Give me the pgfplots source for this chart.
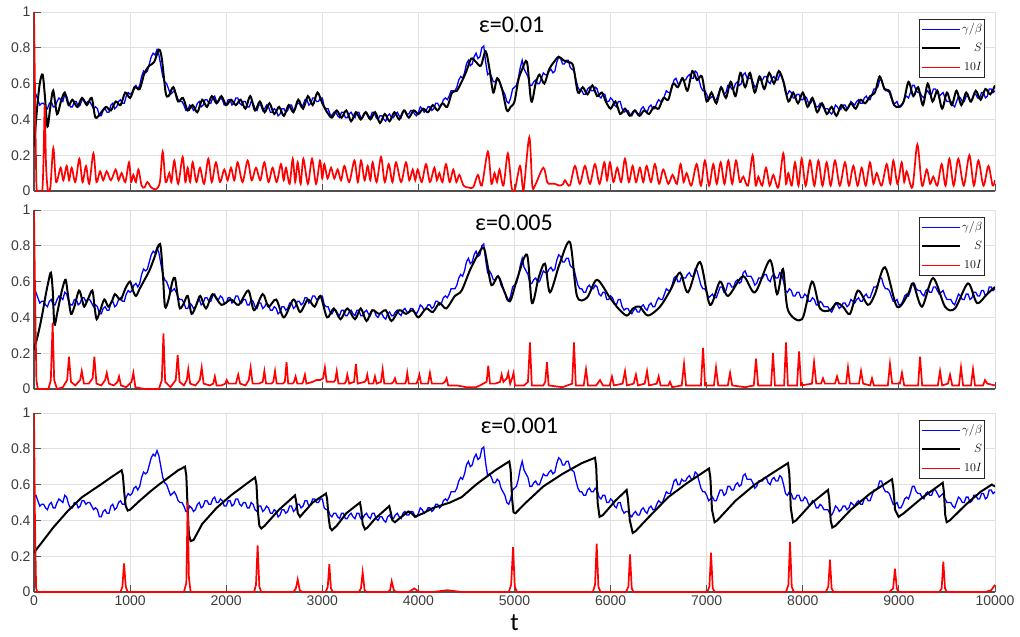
\documentclass[border=0pt]{standalone}
\usepackage{fontspec}
\setmainfont{Liberation Sans}
\newfontfamily\carlito{Carlito}
\usepackage{pgfplots}
\usepackage{pgfplotstable}
\pgfplotsset{compat=1.18}

\definecolor{gridgray}{RGB}{224,224,224}
\definecolor{axgray}{RGB}{80,80,80}
\definecolor{labgray}{RGB}{60,60,60}
\definecolor{mblue}{RGB}{0,0,255}
\definecolor{mred}{RGB}{255,0,0}

\pgfplotstableread[row sep=\\]{t v\\
0 0.53\\ 20 0.54\\ 40 0.51\\ 60 0.48\\ 80 0.49\\ 100 0.49\\ 120 0.47\\ 140 0.46\\ 160 0.49\\ 180 0.50\\
200 0.47\\ 220 0.47\\ 240 0.50\\ 260 0.52\\ 280 0.51\\ 300 0.50\\ 320 0.54\\ 340 0.53\\ 360 0.49\\ 380 0.47\\
400 0.47\\ 420 0.50\\ 440 0.50\\ 460 0.47\\ 480 0.48\\ 500 0.51\\ 520 0.51\\ 540 0.49\\ 560 0.50\\ 580 0.50\\
600 0.48\\ 620 0.46\\ 640 0.47\\ 660 0.46\\ 680 0.42\\ 700 0.42\\ 720 0.45\\ 740 0.46\\ 760 0.44\\ 780 0.44\\
800 0.48\\ 820 0.49\\ 840 0.46\\ 860 0.47\\ 880 0.50\\ 900 0.51\\ 920 0.49\\ 940 0.49\\ 960 0.53\\ 980 0.55\\
1000 0.54\\ 1020 0.55\\ 1040 0.58\\ 1060 0.59\\ 1080 0.57\\ 1100 0.59\\ 1120 0.64\\ 1140 0.67\\ 1160 0.66\\ 1180 0.67\\
1200 0.71\\ 1220 0.75\\ 1240 0.77\\ 1260 0.76\\ 1280 0.79\\ 1300 0.76\\ 1320 0.70\\ 1340 0.64\\ 1360 0.61\\ 1380 0.60\\
1400 0.57\\ 1420 0.54\\ 1440 0.55\\ 1460 0.56\\ 1480 0.54\\ 1500 0.51\\ 1520 0.50\\ 1540 0.50\\ 1560 0.48\\ 1580 0.45\\
1600 0.45\\ 1620 0.48\\ 1640 0.47\\ 1660 0.45\\ 1680 0.46\\ 1700 0.49\\ 1720 0.50\\ 1740 0.47\\ 1760 0.48\\ 1780 0.51\\
1800 0.51\\ 1820 0.49\\ 1840 0.49\\ 1860 0.52\\ 1880 0.53\\ 1900 0.50\\ 1920 0.50\\ 1940 0.52\\ 1960 0.51\\ 1980 0.48\\
2000 0.48\\ 2020 0.51\\ 2040 0.51\\ 2060 0.48\\ 2080 0.49\\ 2100 0.52\\ 2120 0.52\\ 2140 0.49\\ 2160 0.48\\ 2180 0.50\\
2200 0.50\\ 2220 0.47\\ 2240 0.47\\ 2260 0.50\\ 2280 0.49\\ 2300 0.46\\ 2320 0.45\\ 2340 0.48\\ 2360 0.48\\ 2380 0.45\\
2400 0.46\\ 2420 0.48\\ 2440 0.47\\ 2460 0.44\\ 2480 0.44\\ 2500 0.46\\ 2520 0.45\\ 2540 0.42\\ 2560 0.43\\ 2580 0.46\\
2600 0.46\\ 2620 0.44\\ 2640 0.45\\ 2660 0.48\\ 2680 0.48\\ 2700 0.45\\ 2720 0.46\\ 2740 0.49\\ 2760 0.49\\ 2780 0.47\\
2800 0.48\\ 2820 0.51\\ 2840 0.51\\ 2860 0.48\\ 2880 0.49\\ 2900 0.52\\ 2920 0.52\\ 2940 0.50\\ 2960 0.50\\ 2980 0.52\\
3000 0.52\\ 3020 0.47\\ 3040 0.46\\ 3060 0.46\\ 3080 0.43\\ 3100 0.42\\ 3120 0.44\\ 3140 0.44\\ 3160 0.42\\ 3180 0.41\\
3200 0.44\\ 3220 0.44\\ 3240 0.41\\ 3260 0.41\\ 3280 0.43\\ 3300 0.44\\ 3320 0.42\\ 3340 0.41\\ 3360 0.44\\ 3380 0.44\\
3400 0.41\\ 3420 0.41\\ 3440 0.43\\ 3460 0.44\\ 3480 0.42\\ 3500 0.41\\ 3520 0.44\\ 3540 0.44\\ 3560 0.41\\ 3580 0.40\\
3600 0.42\\ 3620 0.42\\ 3640 0.40\\ 3660 0.39\\ 3680 0.42\\ 3700 0.43\\ 3720 0.41\\ 3740 0.41\\ 3760 0.43\\ 3780 0.44\\
3800 0.42\\ 3820 0.41\\ 3840 0.44\\ 3860 0.45\\ 3880 0.43\\ 3900 0.43\\ 3920 0.45\\ 3940 0.45\\ 3960 0.43\\ 3980 0.42\\
4000 0.44\\ 4020 0.47\\ 4040 0.46\\ 4060 0.44\\ 4080 0.45\\ 4100 0.47\\ 4120 0.47\\ 4140 0.45\\ 4160 0.46\\ 4180 0.49\\
4200 0.49\\ 4220 0.47\\ 4240 0.48\\ 4260 0.51\\ 4280 0.52\\ 4300 0.51\\ 4320 0.53\\ 4340 0.56\\ 4360 0.56\\ 4380 0.56\\
4400 0.58\\ 4420 0.62\\ 4440 0.64\\ 4460 0.63\\ 4480 0.66\\ 4500 0.71\\ 4520 0.73\\ 4540 0.70\\ 4560 0.71\\ 4580 0.75\\
4600 0.77\\ 4620 0.74\\ 4640 0.75\\ 4660 0.80\\ 4680 0.81\\ 4700 0.72\\ 4720 0.65\\ 4740 0.66\\ 4760 0.64\\ 4780 0.61\\
4800 0.61\\ 4820 0.63\\ 4840 0.62\\ 4860 0.58\\ 4880 0.56\\ 4900 0.54\\ 4920 0.50\\ 4940 0.49\\ 4960 0.52\\ 4980 0.57\\
5000 0.58\\ 5020 0.59\\ 5040 0.63\\ 5060 0.69\\ 5080 0.73\\ 5100 0.68\\ 5120 0.66\\ 5140 0.64\\ 5160 0.59\\ 5180 0.59\\
5200 0.61\\ 5220 0.62\\ 5240 0.60\\ 5260 0.60\\ 5280 0.63\\ 5300 0.66\\ 5320 0.65\\ 5340 0.65\\ 5360 0.67\\ 5380 0.68\\
5400 0.66\\ 5420 0.67\\ 5440 0.72\\ 5460 0.75\\ 5480 0.74\\ 5500 0.71\\ 5520 0.71\\ 5540 0.73\\ 5560 0.73\\ 5580 0.69\\
5600 0.68\\ 5620 0.67\\ 5640 0.62\\ 5660 0.58\\ 5680 0.56\\ 5700 0.56\\ 5720 0.54\\ 5740 0.54\\ 5760 0.57\\ 5780 0.58\\
5800 0.56\\ 5820 0.56\\ 5840 0.58\\ 5860 0.57\\ 5880 0.53\\ 5900 0.52\\ 5920 0.54\\ 5940 0.54\\ 5960 0.50\\ 5980 0.50\\
6000 0.52\\ 6020 0.51\\ 6040 0.48\\ 6060 0.47\\ 6080 0.50\\ 6100 0.50\\ 6120 0.46\\ 6140 0.44\\ 6160 0.45\\ 6180 0.45\\
6200 0.43\\ 6220 0.42\\ 6240 0.44\\ 6260 0.45\\ 6280 0.43\\ 6300 0.43\\ 6320 0.46\\ 6340 0.47\\ 6360 0.45\\ 6380 0.44\\
6400 0.47\\ 6420 0.48\\ 6440 0.46\\ 6460 0.46\\ 6480 0.49\\ 6500 0.51\\ 6520 0.50\\ 6540 0.50\\ 6560 0.53\\ 6580 0.56\\
6600 0.55\\ 6620 0.55\\ 6640 0.58\\ 6660 0.62\\ 6680 0.63\\ 6700 0.60\\ 6720 0.60\\ 6740 0.63\\ 6760 0.62\\ 6780 0.62\\
6800 0.64\\ 6820 0.65\\ 6840 0.63\\ 6860 0.63\\ 6880 0.67\\ 6900 0.66\\ 6920 0.62\\ 6940 0.58\\ 6960 0.56\\ 6980 0.56\\
7000 0.54\\ 7020 0.51\\ 7040 0.52\\ 7060 0.53\\ 7080 0.51\\ 7100 0.51\\ 7120 0.54\\ 7140 0.57\\ 7160 0.57\\ 7180 0.54\\
7200 0.55\\ 7220 0.59\\ 7240 0.59\\ 7260 0.57\\ 7280 0.57\\ 7300 0.60\\ 7320 0.61\\ 7340 0.59\\ 7360 0.60\\ 7380 0.65\\
7400 0.66\\ 7420 0.63\\ 7440 0.63\\ 7460 0.63\\ 7480 0.61\\ 7500 0.58\\ 7520 0.59\\ 7540 0.62\\ 7560 0.62\\ 7580 0.62\\
7600 0.64\\ 7620 0.64\\ 7640 0.61\\ 7660 0.60\\ 7680 0.63\\ 7700 0.64\\ 7720 0.62\\ 7740 0.62\\ 7760 0.65\\ 7780 0.64\\
7800 0.60\\ 7820 0.55\\ 7840 0.54\\ 7860 0.56\\ 7880 0.55\\ 7900 0.52\\ 7920 0.52\\ 7940 0.54\\ 7960 0.54\\ 7980 0.51\\
8000 0.51\\ 8020 0.53\\ 8040 0.52\\ 8060 0.49\\ 8080 0.49\\ 8100 0.51\\ 8120 0.50\\ 8140 0.47\\ 8160 0.47\\ 8180 0.49\\
8200 0.48\\ 8220 0.46\\ 8240 0.46\\ 8260 0.46\\ 8280 0.44\\ 8300 0.43\\ 8320 0.45\\ 8340 0.48\\ 8360 0.47\\ 8380 0.45\\
8400 0.46\\ 8420 0.48\\ 8440 0.48\\ 8460 0.46\\ 8480 0.47\\ 8500 0.50\\ 8520 0.49\\ 8540 0.48\\ 8560 0.50\\ 8580 0.51\\
8600 0.49\\ 8620 0.49\\ 8640 0.52\\ 8660 0.53\\ 8680 0.51\\ 8700 0.51\\ 8720 0.54\\ 8740 0.57\\ 8760 0.57\\ 8780 0.58\\
8800 0.62\\ 8820 0.62\\ 8840 0.58\\ 8860 0.56\\ 8880 0.56\\ 8900 0.55\\ 8920 0.52\\ 8940 0.49\\ 8960 0.49\\ 8980 0.50\\
9000 0.47\\ 9020 0.47\\ 9040 0.49\\ 9060 0.52\\ 9080 0.53\\ 9100 0.52\\ 9120 0.55\\ 9140 0.59\\ 9160 0.59\\ 9180 0.56\\
9200 0.55\\ 9220 0.55\\ 9240 0.53\\ 9260 0.52\\ 9280 0.55\\ 9300 0.56\\ 9320 0.54\\ 9340 0.54\\ 9360 0.57\\ 9380 0.57\\
9400 0.55\\ 9420 0.53\\ 9440 0.54\\ 9460 0.55\\ 9480 0.52\\ 9500 0.50\\ 9520 0.50\\ 9540 0.50\\ 9560 0.48\\ 9580 0.47\\
9600 0.50\\ 9620 0.53\\ 9640 0.52\\ 9660 0.50\\ 9680 0.50\\ 9700 0.53\\ 9720 0.53\\ 9740 0.50\\ 9760 0.51\\ 9780 0.54\\
9800 0.54\\ 9820 0.52\\ 9840 0.52\\ 9860 0.55\\ 9880 0.55\\ 9900 0.52\\ 9920 0.53\\ 9940 0.57\\ 9960 0.57\\ 9980 0.55\\
10000 0.56\\
}\tabBlue

\pgfplotstableread[row sep=\\]{t v\\
0 0.25\\ 30 0.45\\ 60 0.60\\ 90 0.65\\ 115 0.52\\ 140 0.36\\ 170 0.47\\ 200 0.56\\ 240 0.43\\ 280 0.50\\
320 0.55\\ 360 0.48\\ 400 0.51\\ 450 0.47\\ 500 0.52\\ 550 0.48\\ 600 0.52\\ 640 0.41\\ 700 0.44\\ 750 0.47\\
800 0.45\\ 850 0.50\\ 900 0.48\\ 950 0.55\\ 1000 0.52\\ 1050 0.58\\ 1100 0.57\\ 1150 0.66\\ 1200 0.70\\ 1250 0.72\\
1300 0.79\\ 1330 0.74\\ 1370 0.55\\ 1400 0.53\\ 1450 0.58\\ 1500 0.50\\ 1550 0.52\\ 1600 0.45\\ 1650 0.48\\ 1700 0.44\\
1750 0.51\\ 1800 0.47\\ 1850 0.53\\ 1900 0.49\\ 1950 0.53\\ 2000 0.48\\ 2050 0.51\\ 2100 0.48\\ 2150 0.51\\ 2200 0.46\\
2250 0.53\\ 2300 0.45\\ 2350 0.50\\ 2400 0.44\\ 2450 0.49\\ 2500 0.43\\ 2550 0.47\\ 2600 0.42\\ 2650 0.48\\ 2700 0.44\\
2750 0.51\\ 2800 0.46\\ 2850 0.53\\ 2900 0.48\\ 2950 0.55\\ 3000 0.49\\ 3050 0.44\\ 3100 0.41\\ 3150 0.45\\ 3200 0.41\\
3250 0.45\\ 3300 0.39\\ 3350 0.44\\ 3400 0.40\\ 3450 0.44\\ 3500 0.40\\ 3550 0.44\\ 3600 0.38\\ 3650 0.43\\ 3700 0.39\\
3750 0.44\\ 3800 0.40\\ 3850 0.45\\ 3900 0.41\\ 3950 0.45\\ 4000 0.43\\ 4050 0.46\\ 4100 0.44\\ 4150 0.48\\ 4200 0.45\\
4250 0.49\\ 4300 0.47\\ 4350 0.55\\ 4400 0.56\\ 4450 0.61\\ 4500 0.67\\ 4550 0.74\\ 4600 0.72\\ 4650 0.70\\ 4700 0.78\\
4740 0.68\\ 4780 0.55\\ 4820 0.63\\ 4870 0.57\\ 4920 0.45\\ 4960 0.47\\ 5000 0.50\\ 5040 0.62\\ 5080 0.68\\ 5130 0.72\\
5175 0.50\\ 5220 0.60\\ 5260 0.65\\ 5310 0.60\\ 5360 0.68\\ 5410 0.72\\ 5460 0.75\\ 5510 0.73\\ 5560 0.72\\ 5610 0.70\\
5660 0.55\\ 5710 0.58\\ 5760 0.54\\ 5810 0.59\\ 5860 0.53\\ 5910 0.55\\ 5950 0.50\\ 6000 0.46\\ 6050 0.50\\ 6100 0.43\\
6150 0.46\\ 6200 0.42\\ 6250 0.45\\ 6300 0.42\\ 6350 0.45\\ 6400 0.43\\ 6450 0.47\\ 6500 0.46\\ 6550 0.52\\ 6600 0.51\\
6650 0.60\\ 6700 0.58\\ 6750 0.63\\ 6800 0.56\\ 6850 0.67\\ 6900 0.62\\ 6950 0.64\\ 7000 0.50\\ 7050 0.55\\ 7100 0.49\\
7150 0.58\\ 7200 0.52\\ 7250 0.61\\ 7300 0.53\\ 7350 0.66\\ 7400 0.58\\ 7450 0.66\\ 7500 0.55\\ 7550 0.64\\ 7600 0.57\\
7650 0.66\\ 7700 0.60\\ 7750 0.67\\ 7800 0.61\\ 7850 0.50\\ 7900 0.55\\ 7950 0.49\\ 8000 0.55\\ 8050 0.47\\ 8100 0.52\\
8150 0.44\\ 8200 0.49\\ 8250 0.43\\ 8300 0.47\\ 8350 0.42\\ 8400 0.48\\ 8450 0.45\\ 8500 0.49\\ 8550 0.46\\ 8600 0.51\\
8650 0.49\\ 8700 0.53\\ 8750 0.55\\ 8800 0.64\\ 8850 0.57\\ 8900 0.56\\ 8950 0.48\\ 9000 0.47\\ 9050 0.50\\ 9100 0.61\\
9150 0.53\\ 9200 0.58\\ 9250 0.48\\ 9300 0.60\\ 9350 0.50\\ 9400 0.56\\ 9450 0.46\\ 9500 0.55\\ 9550 0.48\\ 9600 0.56\\
9650 0.48\\ 9700 0.55\\ 9750 0.50\\ 9800 0.56\\ 9850 0.51\\ 9900 0.57\\ 9950 0.54\\ 10000 0.59\\
}\tabBlackA

\pgfplotstableread[row sep=\\]{t v\\
0 1.0\\ 12 0.5\\ 25 0.04\\ 40 0.0\\ 85 0.0\\ 100 0.20\\ 112 0.48\\ 125 0.15\\ 145 0.0\\ 170 0.02\\
201 0.24\\ 230 0.05\\ 277 0.13\\ 305 0.06\\ 340 0.14\\ 365 0.06\\ 392 0.13\\ 430 0.05\\ 472 0.18\\ 505 0.05\\
541 0.14\\ 575 0.04\\ 618 0.21\\ 650 0.05\\ 687 0.11\\ 720 0.06\\ 756 0.11\\ 800 0.06\\ 850 0.12\\ 880 0.06\\
912 0.10\\ 950 0.05\\ 989 0.16\\ 1010 0.05\\ 1034 0.09\\ 1060 0.05\\ 1086 0.12\\ 1120 0.03\\ 1150 0.02\\ 1180 0.05\\
1220 0.02\\ 1270 0.01\\ 1310 0.05\\ 1339 0.22\\ 1370 0.05\\ 1408 0.10\\ 1430 0.05\\ 1460 0.17\\ 1500 0.04\\ 1547 0.19\\
1575 0.05\\ 1599 0.13\\ 1625 0.05\\ 1651 0.16\\ 1690 0.05\\ 1727 0.13\\ 1770 0.04\\ 1814 0.18\\ 1850 0.05\\ 1893 0.16\\
1935 0.05\\ 1980 0.12\\ 2015 0.06\\ 2050 0.13\\ 2085 0.06\\ 2119 0.16\\ 2170 0.05\\ 2223 0.17\\ 2265 0.06\\ 2310 0.13\\
2355 0.06\\ 2397 0.16\\ 2440 0.05\\ 2483 0.13\\ 2525 0.05\\ 2570 0.15\\ 2598 0.06\\ 2622 0.13\\ 2660 0.04\\ 2692 0.18\\
2718 0.05\\ 2744 0.16\\ 2775 0.04\\ 2803 0.18\\ 2850 0.04\\ 2893 0.18\\ 2935 0.04\\ 2976 0.17\\ 3000 0.07\\ 3021 0.15\\
3055 0.07\\ 3091 0.13\\ 3125 0.07\\ 3160 0.12\\ 3195 0.06\\ 3230 0.14\\ 3280 0.05\\ 3334 0.17\\ 3370 0.05\\ 3403 0.17\\
3440 0.06\\ 3472 0.14\\ 3500 0.06\\ 3524 0.16\\ 3565 0.05\\ 3611 0.19\\ 3650 0.05\\ 3691 0.15\\ 3730 0.05\\ 3767 0.16\\
3820 0.05\\ 3871 0.16\\ 3905 0.06\\ 3941 0.12\\ 3967 0.06\\ 3993 0.12\\ 4035 0.05\\ 4079 0.15\\ 4120 0.05\\ 4166 0.13\\
4192 0.06\\ 4218 0.10\\ 4250 0.05\\ 4287 0.15\\ 4325 0.05\\ 4363 0.12\\ 4395 0.05\\ 4426 0.09\\ 4470 0.03\\ 4520 0.02\\
4570 0.02\\ 4619 0.09\\ 4660 0.03\\ 4723 0.22\\ 4760 0.04\\ 4792 0.10\\ 4818 0.05\\ 4844 0.12\\ 4885 0.03\\ 4931 0.21\\
4970 0.02\\ 5005 0.01\\ 5057 0.14\\ 5085 0.02\\ 5099 0.02\\ 5154 0.30\\ 5185 0.03\\ 5213 0.03\\ 5300 0.13\\ 5340 0.05\\
5370 0.04\\ 5420 0.04\\ 5470 0.03\\ 5508 0.04\\ 5525 0.06\\ 5575 0.03\\ 5629 0.14\\ 5680 0.04\\ 5733 0.14\\ 5785 0.04\\
5837 0.15\\ 5885 0.04\\ 5934 0.16\\ 5963 0.06\\ 5993 0.16\\ 6030 0.05\\ 6069 0.13\\ 6110 0.05\\ 6149 0.18\\ 6190 0.05\\
6229 0.14\\ 6265 0.05\\ 6305 0.13\\ 6340 0.05\\ 6375 0.14\\ 6420 0.05\\ 6461 0.15\\ 6505 0.04\\ 6548 0.12\\ 6600 0.04\\
6645 0.09\\ 6690 0.04\\ 6728 0.15\\ 6760 0.05\\ 6791 0.10\\ 6840 0.03\\ 6895 0.15\\ 6940 0.03\\ 6981 0.17\\ 7025 0.03\\
7068 0.15\\ 7105 0.04\\ 7145 0.16\\ 7185 0.04\\ 7225 0.17\\ 7265 0.04\\ 7305 0.17\\ 7345 0.05\\ 7381 0.08\\ 7430 0.03\\
7478 0.20\\ 7510 0.03\\ 7537 0.08\\ 7577 0.03\\ 7617 0.13\\ 7655 0.03\\ 7693 0.09\\ 7745 0.02\\ 7797 0.21\\ 7825 0.04\\
7849 0.10\\ 7885 0.03\\ 7919 0.16\\ 7955 0.03\\ 7988 0.18\\ 8030 0.03\\ 8075 0.17\\ 8120 0.03\\ 8162 0.17\\ 8205 0.03\\
8248 0.16\\ 8290 0.03\\ 8335 0.17\\ 8385 0.03\\ 8439 0.16\\ 8480 0.03\\ 8526 0.14\\ 8570 0.03\\ 8613 0.13\\ 8655 0.03\\
8699 0.16\\ 8735 0.04\\ 8769 0.10\\ 8820 0.03\\ 8873 0.15\\ 8910 0.04\\ 8942 0.17\\ 8985 0.04\\ 9029 0.16\\ 9055 0.05\\
9081 0.11\\ 9140 0.02\\ 9192 0.26\\ 9240 0.03\\ 9289 0.12\\ 9325 0.04\\ 9358 0.08\\ 9400 0.03\\ 9445 0.15\\ 9485 0.03\\
9525 0.18\\ 9570 0.03\\ 9618 0.18\\ 9675 0.03\\ 9733 0.20\\ 9780 0.03\\ 9827 0.17\\ 9880 0.03\\ 9931 0.14\\ 9975 0.03\\
10000 0.06\\
}\tabRedA

\pgfplotstableread[row sep=\\]{t v\\
0 0.22\\ 40 0.30\\ 80 0.40\\ 120 0.52\\ 150 0.60\\ 176 0.65\\ 195 0.55\\ 212 0.36\\ 240 0.42\\ 270 0.50\\
300 0.57\\ 330 0.61\\ 355 0.52\\ 385 0.42\\ 420 0.46\\ 468 0.55\\ 500 0.50\\ 522 0.46\\ 560 0.50\\ 607 0.55\\
630 0.46\\ 652 0.39\\ 690 0.44\\ 732 0.50\\ 773 0.46\\ 810 0.49\\ 842 0.53\\ 875 0.51\\ 905 0.50\\ 950 0.56\\
999 0.60\\ 1030 0.55\\ 1061 0.52\\ 1100 0.56\\ 1150 0.61\\ 1200 0.66\\ 1250 0.73\\ 1311 0.81\\ 1340 0.65\\ 1363 0.46\\
1400 0.50\\ 1440 0.60\\ 1467 0.62\\ 1495 0.52\\ 1519 0.45\\ 1560 0.48\\ 1600 0.52\\ 1640 0.42\\ 1690 0.47\\ 1730 0.52\\
1790 0.45\\ 1860 0.53\\ 1950 0.47\\ 2050 0.50\\ 2130 0.47\\ 2230 0.55\\ 2290 0.44\\ 2380 0.53\\ 2440 0.46\\ 2520 0.50\\
2600 0.40\\ 2700 0.50\\ 2770 0.43\\ 2850 0.50\\ 2920 0.46\\ 2980 0.52\\ 3050 0.40\\ 3120 0.45\\ 3190 0.39\\ 3260 0.45\\
3340 0.39\\ 3400 0.45\\ 3460 0.38\\ 3520 0.44\\ 3590 0.42\\ 3660 0.44\\ 3720 0.38\\ 3800 0.44\\ 3870 0.42\\ 3940 0.44\\
4000 0.40\\ 4080 0.45\\ 4150 0.43\\ 4220 0.48\\ 4290 0.45\\ 4380 0.52\\ 4450 0.55\\ 4550 0.68\\ 4670 0.79\\ 4710 0.72\\
4760 0.58\\ 4830 0.63\\ 4890 0.55\\ 4953 0.49\\ 5030 0.62\\ 5130 0.75\\ 5182 0.48\\ 5250 0.62\\ 5317 0.70\\ 5369 0.54\\
5470 0.70\\ 5577 0.82\\ 5650 0.52\\ 5754 0.51\\ 5858 0.61\\ 5993 0.51\\ 6080 0.45\\ 6170 0.41\\ 6233 0.45\\ 6302 0.46\\
6389 0.41\\ 6514 0.46\\ 6620 0.55\\ 6722 0.65\\ 6805 0.54\\ 6930 0.71\\ 7034 0.47\\ 7138 0.60\\ 7222 0.52\\ 7378 0.63\\
7503 0.54\\ 7659 0.72\\ 7732 0.53\\ 7794 0.67\\ 7846 0.44\\ 7992 0.39\\ 8096 0.60\\ 8179 0.45\\ 8283 0.44\\ 8350 0.48\\
8418 0.46\\ 8491 0.42\\ 8574 0.55\\ 8678 0.47\\ 8751 0.53\\ 8855 0.68\\ 8980 0.46\\ 9095 0.53\\ 9147 0.59\\ 9240 0.46\\
9355 0.62\\ 9480 0.46\\ 9584 0.45\\ 9719 0.59\\ 9813 0.48\\ 9917 0.53\\ 10000 0.57\\
}\tabBlackB

\pgfplotstableread[row sep=\\]{t v\\
0 1.0\\ 12 0.5\\ 25 0.05\\ 40 0.0\\ 150 0.0\\ 175 0.05\\ 194 0.37\\ 210 0.05\\ 240 0.0\\ 300 0.01\\
345 0.05\\ 364 0.18\\ 385 0.04\\ 430 0.02\\ 480 0.05\\ 497 0.10\\ 520 0.03\\ 570 0.03\\ 610 0.06\\ 628 0.18\\
650 0.03\\ 700 0.02\\ 740 0.05\\ 757 0.09\\ 780 0.03\\ 830 0.02\\ 870 0.04\\ 885 0.07\\ 905 0.02\\ 960 0.01\\
1015 0.04\\ 1034 0.09\\ 1055 0.01\\ 1150 0.0\\ 1300 0.0\\ 1330 0.05\\ 1347 0.31\\ 1365 0.04\\ 1420 0.01\\ 1475 0.05\\
1495 0.19\\ 1515 0.04\\ 1560 0.02\\ 1590 0.05\\ 1605 0.11\\ 1625 0.03\\ 1680 0.02\\ 1725 0.05\\ 1745 0.12\\ 1765 0.03\\
1830 0.02\\ 1865 0.03\\ 1882 0.07\\ 1900 0.02\\ 1950 0.02\\ 1990 0.03\\ 2005 0.05\\ 2025 0.03\\ 2060 0.03\\ 2100 0.03\\
2125 0.08\\ 2145 0.03\\ 2200 0.02\\ 2235 0.05\\ 2254 0.12\\ 2275 0.03\\ 2340 0.03\\ 2380 0.04\\ 2397 0.10\\ 2415 0.03\\
2470 0.03\\ 2490 0.04\\ 2508 0.10\\ 2525 0.03\\ 2590 0.03\\ 2610 0.04\\ 2628 0.15\\ 2645 0.03\\ 2690 0.03\\ 2705 0.04\\
2722 0.07\\ 2740 0.03\\ 2790 0.03\\ 2800 0.04\\ 2819 0.08\\ 2835 0.03\\ 2900 0.04\\ 2940 0.05\\ 2980 0.05\\ 3008 0.06\\
3027 0.12\\ 3045 0.04\\ 3120 0.04\\ 3135 0.05\\ 3150 0.10\\ 3168 0.03\\ 3230 0.03\\ 3245 0.04\\ 3260 0.08\\ 3280 0.03\\
3330 0.04\\ 3350 0.14\\ 3368 0.03\\ 3440 0.04\\ 3455 0.05\\ 3468 0.08\\ 3485 0.03\\ 3530 0.03\\ 3548 0.07\\ 3565 0.03\\
3610 0.04\\ 3628 0.11\\ 3645 0.03\\ 3720 0.03\\ 3740 0.04\\ 3756 0.06\\ 3772 0.03\\ 3860 0.03\\ 3870 0.04\\ 3884 0.09\\
3900 0.03\\ 3980 0.03\\ 3995 0.05\\ 4010 0.08\\ 4028 0.03\\ 4100 0.03\\ 4120 0.09\\ 4140 0.03\\ 4200 0.03\\ 4250 0.03\\
4275 0.04\\ 4293 0.06\\ 4310 0.02\\ 4400 0.02\\ 4500 0.01\\ 4600 0.01\\ 4640 0.02\\ 4710 0.04\\ 4727 0.13\\ 4745 0.03\\
4800 0.03\\ 4850 0.04\\ 4866 0.08\\ 4885 0.04\\ 4920 0.06\\ 4935 0.09\\ 4955 0.03\\ 4975 0.06\\ 4990 0.09\\ 5005 0.02\\
5100 0.02\\ 5140 0.04\\ 5161 0.26\\ 5180 0.02\\ 5300 0.02\\ 5320 0.04\\ 5338 0.15\\ 5355 0.02\\ 5500 0.01\\ 5600 0.03\\
5619 0.26\\ 5638 0.02\\ 5720 0.02\\ 5744 0.11\\ 5765 0.02\\ 5850 0.02\\ 5890 0.05\\ 5920 0.02\\ 5990 0.02\\ 6014 0.07\\
6035 0.02\\ 6125 0.03\\ 6150 0.10\\ 6170 0.02\\ 6240 0.03\\ 6264 0.08\\ 6285 0.02\\ 6355 0.03\\ 6379 0.10\\ 6400 0.02\\
6480 0.03\\ 6500 0.07\\ 6520 0.02\\ 6600 0.02\\ 6618 0.04\\ 6640 0.01\\ 6740 0.02\\ 6764 0.14\\ 6785 0.02\\ 6940 0.02\\
6962 0.23\\ 6983 0.02\\ 7075 0.02\\ 7097 0.12\\ 7120 0.02\\ 7220 0.02\\ 7243 0.09\\ 7265 0.02\\ 7400 0.01\\ 7490 0.02\\
7513 0.17\\ 7535 0.02\\ 7670 0.02\\ 7690 0.20\\ 7710 0.02\\ 7805 0.02\\ 7825 0.26\\ 7845 0.02\\ 7940 0.02\\ 7961 0.21\\
7982 0.02\\ 8095 0.03\\ 8117 0.15\\ 8140 0.03\\ 8190 0.03\\ 8210 0.06\\ 8230 0.03\\ 8335 0.03\\ 8356 0.07\\ 8378 0.03\\
8450 0.03\\ 8470 0.12\\ 8490 0.03\\ 8585 0.03\\ 8606 0.10\\ 8628 0.03\\ 8700 0.02\\ 8720 0.06\\ 8740 0.02\\ 8885 0.02\\
8907 0.14\\ 8930 0.03\\ 9010 0.03\\ 9032 0.09\\ 9055 0.02\\ 9200 0.02\\ 9220 0.18\\ 9242 0.02\\ 9405 0.02\\ 9428 0.10\\
9450 0.02\\ 9510 0.03\\ 9532 0.08\\ 9555 0.02\\ 9625 0.02\\ 9646 0.12\\ 9668 0.02\\ 9750 0.02\\ 9771 0.11\\ 9792 0.02\\
9875 0.02\\ 9896 0.05\\ 9920 0.03\\ 10000 0.02\\
}\tabRedB

\pgfplotstableread[row sep=\\]{t v\\
0 0.22\\ 100 0.29\\ 200 0.36\\ 347 0.45\\ 500 0.53\\ 694 0.60\\ 800 0.64\\ 912 0.68\\ 925 0.65\\ 940 0.55\\
955 0.48\\ 975 0.455\\ 1000 0.46\\ 1100 0.51\\ 1207 0.56\\ 1300 0.60\\ 1400 0.64\\ 1500 0.68\\ 1571 0.70\\ 1585 0.65\\
1600 0.45\\ 1612 0.32\\ 1630 0.285\\ 1660 0.29\\ 1750 0.38\\ 1900 0.47\\ 2050 0.54\\ 2200 0.60\\ 2300 0.64\\ 2315 0.60\\
2330 0.45\\ 2345 0.37\\ 2365 0.355\\ 2400 0.37\\ 2550 0.46\\ 2716 0.54\\ 2730 0.50\\ 2745 0.44\\ 2768 0.42\\ 2800 0.44\\
2900 0.50\\ 3038 0.55\\ 3050 0.52\\ 3065 0.42\\ 3080 0.36\\ 3100 0.345\\ 3150 0.37\\ 3250 0.44\\ 3392 0.50\\ 3405 0.46\\
3420 0.38\\ 3444 0.35\\ 3470 0.36\\ 3550 0.41\\ 3697 0.48\\ 3710 0.45\\ 3730 0.40\\ 3756 0.39\\ 3800 0.41\\ 3895 0.45\\
3930 0.44\\ 3964 0.42\\ 4050 0.44\\ 4155 0.47\\ 4329 0.50\\ 4450 0.53\\ 4600 0.60\\ 4800 0.68\\ 4946 0.73\\ 4960 0.68\\
4975 0.52\\ 4990 0.445\\ 5010 0.44\\ 5100 0.49\\ 5300 0.59\\ 5500 0.66\\ 5700 0.72\\ 5838 0.75\\ 5850 0.70\\ 5865 0.50\\
5885 0.42\\ 5920 0.43\\ 6050 0.51\\ 6167 0.57\\ 6180 0.52\\ 6200 0.40\\ 6230 0.33\\ 6260 0.34\\ 6400 0.42\\ 6600 0.53\\
6800 0.61\\ 7024 0.69\\ 7038 0.64\\ 7055 0.46\\ 7082 0.39\\ 7110 0.40\\ 7300 0.51\\ 7500 0.60\\ 7700 0.67\\ 7846 0.72\\
7860 0.66\\ 7875 0.47\\ 7898 0.39\\ 7930 0.40\\ 8100 0.50\\ 8262 0.57\\ 8275 0.52\\ 8290 0.40\\ 8307 0.36\\ 8340 0.37\\
8500 0.46\\ 8700 0.55\\ 8928 0.63\\ 8942 0.58\\ 8960 0.46\\ 8997 0.42\\ 9050 0.44\\ 9250 0.53\\ 9456 0.61\\ 9468 0.56\\
9482 0.43\\ 9497 0.39\\ 9530 0.40\\ 9700 0.49\\ 9850 0.56\\ 9966 0.60\\ 10000 0.59\\
}\tabBlackC

\pgfplotstableread[row sep=\\]{t v\\
0 1.0\\ 10 0.4\\ 22 0.02\\ 35 0.0\\ 900 0.0\\ 920 0.03\\ 937 0.16\\ 955 0.03\\ 975 0.0\\ 1560 0.0\\
1585 0.05\\ 1599 0.50\\ 1612 0.08\\ 1630 0.0\\ 2290 0.0\\ 2310 0.04\\ 2327 0.26\\ 2345 0.03\\ 2365 0.0\\ 2700 0.0\\
2725 0.02\\ 2744 0.07\\ 2765 0.01\\ 2790 0.0\\ 3035 0.0\\ 3057 0.03\\ 3073 0.155\\ 3090 0.02\\ 3110 0.0\\ 3380 0.0\\
3402 0.02\\ 3420 0.11\\ 3440 0.01\\ 3460 0.0\\ 3680 0.0\\ 3705 0.01\\ 3722 0.06\\ 3745 0.01\\ 3770 0.0\\ 3900 0.0\\
3957 0.02\\ 4010 0.0\\ 4150 0.0\\ 4300 0.01\\ 4450 0.0\\ 4940 0.0\\ 4965 0.04\\ 4985 0.25\\ 5003 0.03\\ 5025 0.0\\
5815 0.0\\ 5838 0.04\\ 5855 0.27\\ 5873 0.03\\ 5895 0.0\\ 6160 0.0\\ 6185 0.03\\ 6202 0.21\\ 6220 0.02\\ 6240 0.0\\
7005 0.0\\ 7028 0.03\\ 7045 0.22\\ 7063 0.02\\ 7085 0.0\\ 7825 0.0\\ 7850 0.04\\ 7867 0.28\\ 7885 0.03\\ 7905 0.0\\
8240 0.0\\ 8265 0.03\\ 8283 0.18\\ 8300 0.02\\ 8320 0.0\\ 8900 0.0\\ 8940 0.02\\ 8959 0.13\\ 8978 0.02\\ 9000 0.0\\
9420 0.0\\ 9445 0.02\\ 9462 0.17\\ 9480 0.02\\ 9500 0.0\\ 9900 0.0\\ 9960 0.01\\ 10000 0.04\\
}\tabRedC

\pgfplotsset{
  panel/.style={
    scale only axis, width=961pt, height=179pt,
    anchor=north west,
    xmin=0, xmax=10000, ymin=0, ymax=1,
    xtick={0,1000,2000,3000,4000,5000,6000,7000,8000,9000,10000},
    scaled x ticks=false, scaled y ticks=false,
    ytick={0,0.2,0.4,0.6,0.8,1},
    yticklabels={0,0.2,0.4,0.6,0.8,1},
    grid=major, major grid style={draw=gridgray, line width=0.9pt},
    axis x line*=bottom, axis y line*=left,
    axis line style={-, draw=axgray, line width=1.1pt},
    tick style={draw=axgray, line width=0.9pt},
    major tick length=7pt, tick align=inside,
    ticklabel style={font=\fontsize{14}{14}\selectfont, text=labgray},
    /pgf/number format/assume math mode=true,
    legend cell align=right,
    legend style={at={(0.9896,0.96)}, anchor=north east,
      draw=black!85, line width=0.9pt, fill=white,
      font=\fontsize{13}{13}\selectfont,
      inner xsep=1pt, inner ysep=2pt, row sep=3.5pt,
      nodes={inner sep=1.5pt, text height=9pt, text depth=3.5pt}},
    legend image code/.code={\draw[##1] (0pt,0pt) -- (38pt,0pt);},
  },
}
\tikzset{ttl/.style={font=\carlito\fontsize{24}{24}\selectfont, inner sep=0pt, anchor=center}}

\begin{document}
\begin{tikzpicture}
\begin{axis}[panel, at={(0pt,0pt)}, xticklabels={}]
\addplot[draw=mblue, line width=1.3pt] table[x=t,y=v]{\tabBlue};
\addlegendentry{$\gamma/\beta$}
\addplot[draw=black, line width=2pt, smooth] table[x=t,y=v]{\tabBlackA};
\addlegendentry{$S$}
\addplot[draw=mred, line width=1.7pt, smooth] table[x=t,y=v]{\tabRedA};
\addlegendentry{$10I$}
\node[ttl] at (rel axis cs:0.497,0.93) {ε=0.01};
\end{axis}

\begin{axis}[panel, at={(0pt,-198pt)}, xticklabels={}]
\addplot[draw=mblue, line width=1.3pt] table[x=t,y=v]{\tabBlue};
\addlegendentry{$\gamma/\beta$}
\addplot[draw=black, line width=2pt, smooth] table[x=t,y=v]{\tabBlackB};
\addlegendentry{$S$}
\addplot[draw=mred, line width=1.7pt] table[x=t,y=v]{\tabRedB};
\addlegendentry{$10I$}
\node[ttl] at (rel axis cs:0.4995,0.93) {ε=0.005};
\end{axis}

\begin{axis}[panel, at={(0pt,-401pt)},
  xticklabels={0,1000,2000,3000,4000,5000,6000,7000,8000,9000,10000},
  xlabel={t},
  xlabel style={font=\carlito\fontsize{25}{25}\selectfont, at={(axis description cs:0.5,0)}, anchor=base, inner sep=0pt, yshift=-38pt}]
\addplot[draw=mblue, line width=1.3pt] table[x=t,y=v]{\tabBlue};
\addlegendentry{$\gamma/\beta$}
\addplot[draw=black, line width=2pt] table[x=t,y=v]{\tabBlackC};
\addlegendentry{$S$}
\addplot[draw=mred, line width=1.7pt] table[x=t,y=v]{\tabRedC};
\addlegendentry{$10I$}
\node[ttl] at (rel axis cs:0.505,0.928) {ε=0.001};
\end{axis}
\pgfresetboundingbox
\path[use as bounding box] (-34pt,12pt) rectangle (986pt,-625pt);
\end{tikzpicture}
\end{document}
